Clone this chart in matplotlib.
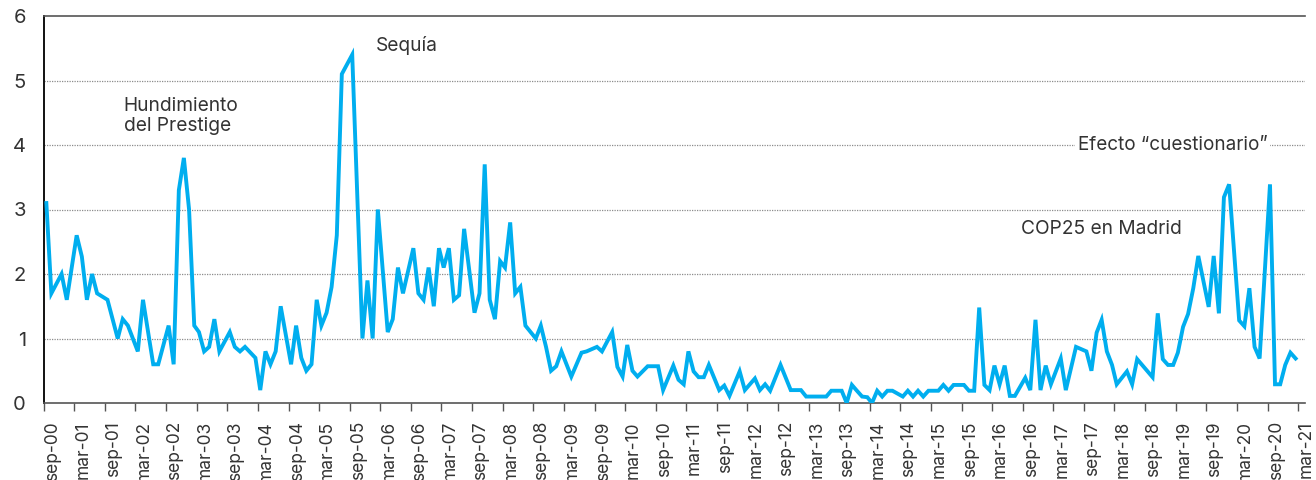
import matplotlib
matplotlib.use("Agg")
import matplotlib.pyplot as plt
import matplotlib.transforms as mtransforms
import pandas as pd

# ---- data -------------------------------------------------------------
start_month = "2000-09"
# months elapsed since sep-2000 for each survey observation
month_offset = [
    0, 1, 3, 4, 6, 7, 8, 9, 10, 12, 14, 15, 16, 18, 19, 21, 22, 24, 25, 26,
    27, 28, 29, 30, 31, 32, 33, 34, 36, 37, 38, 39, 41, 42, 43, 44, 45, 46, 48, 49,
    50, 51, 52, 53, 54, 55, 56, 57, 58, 60, 62, 63, 64, 65, 67, 68, 69, 70, 72, 73,
    74, 75, 76, 77, 78, 79, 80, 81, 82, 84, 85, 86, 87, 88, 89, 90, 91, 92, 93, 94,
    96, 97, 98, 99, 100, 101, 103, 105, 106, 108, 109, 111, 112, 113, 114, 115, 116, 118, 120, 121,
    123, 124, 125, 126, 127, 128, 129, 130, 132, 133, 134, 136, 137, 139, 140, 141, 142, 144, 146, 148,
    149, 152, 153, 154, 156, 157, 158, 159, 160, 161, 162, 163, 164, 165, 166, 168, 169, 170, 171, 172,
    173, 175, 176, 177, 178, 180, 181, 182, 183, 184, 185, 186, 187, 188, 189, 190, 192, 193, 194, 195,
    196, 197, 199, 200, 202, 204, 205, 206, 207, 208, 209, 210, 212, 213, 214, 217, 218, 219, 220, 221,
    222, 223, 224, 225, 226, 228, 229, 230, 231, 232, 234, 235, 236, 237, 238, 240, 241, 242, 243, 244,
    245,
]
values = [
    3.1, 1.7, 2.0, 1.6, 2.6, 2.27, 1.6, 2.0, 1.7, 1.6, 1.0, 1.3, 1.2, 0.8, 1.6, 0.6, 0.6, 1.2, 0.6, 3.3,
    3.8, 3.0, 1.2, 1.1, 0.8, 0.87, 1.3, 0.8, 1.1, 0.87, 0.8, 0.87, 0.7, 0.2, 0.8, 0.6, 0.8, 1.5, 0.6, 1.2,
    0.7, 0.5, 0.6, 1.6, 1.2, 1.4, 1.8, 2.6, 5.1, 5.4, 1.0, 1.9, 1.0, 3.0, 1.1, 1.3, 2.1, 1.7, 2.4, 1.7,
    1.6, 2.1, 1.5, 2.4, 2.1, 2.4, 1.6, 1.67, 2.7, 1.4, 1.7, 3.7, 1.6, 1.3, 2.2, 2.1, 2.8, 1.7, 1.8, 1.2,
    1.0, 1.2, 0.87, 0.5, 0.57, 0.8, 0.41, 0.78, 0.8, 0.87, 0.8, 1.1, 0.56, 0.41, 0.9, 0.5, 0.41, 0.57, 0.57, 0.2,
    0.58, 0.36, 0.29, 0.8, 0.49, 0.4, 0.4, 0.59, 0.2, 0.27, 0.11, 0.49, 0.2, 0.38, 0.2, 0.29, 0.19, 0.59, 0.2, 0.2,
    0.1, 0.1, 0.1, 0.19, 0.19, 0.0, 0.28, 0.19, 0.1, 0.09, 0.0, 0.19, 0.1, 0.19, 0.19, 0.1, 0.19, 0.1, 0.19, 0.1,
    0.19, 0.19, 0.28, 0.19, 0.28, 0.28, 0.19, 0.19, 1.48, 0.28, 0.2, 0.58, 0.29, 0.58, 0.11, 0.11, 0.39, 0.2, 1.29, 0.2,
    0.58, 0.29, 0.69, 0.2, 0.87, 0.8, 0.5, 1.09, 1.29, 0.8, 0.59, 0.29, 0.49, 0.29, 0.68, 0.4, 1.39, 0.68, 0.59, 0.59,
    0.78, 1.18, 1.38, 1.78, 2.28, 1.49, 2.28, 1.39, 3.19, 3.39, 1.28, 1.19, 1.78, 0.87, 0.69, 3.39, 0.29, 0.29, 0.59, 0.78,
    0.69,
]
tick_labels = []
for yr in range(0, 21):
    tick_labels.append(f"sep-{yr:02d}")
    tick_labels.append(f"mar-{yr + 1:02d}")
y_ticks = [0, 1, 2, 3, 4, 5, 6]

annotations = [
    ("Hundimiento\ndel Prestige", "2001-12-20", 4.45),
    ("Sequía", "2006-02-05", 5.55),
    ("COP25 en Madrid", "2016-08-20", 2.7),
]
callout_text = "Efecto \u201ccuestionario\u201d"
callout_pos = ("2017-07-25", 4.0)

# ---- build -------------------------------------------------------------
base = pd.Timestamp(start_month + "-15")
dates = [base + pd.DateOffset(months=m) for m in month_offset]
tick_dates = [pd.Timestamp("2000-09-01") + pd.DateOffset(months=6 * i)
              for i in range(len(tick_labels))]

plt.rcParams["font.family"] = ["Inter", "DejaVu Sans"]

fig = plt.figure(figsize=(13.16, 4.80), dpi=100)
ax = fig.add_axes([44 / 1316, 1 - 403 / 480, 1261 / 1316, 387 / 480])

line_color = "#00AEEF"
text_color = "#333333"

ax.plot(dates, values, color=line_color, lw=2.8, solid_joinstyle="miter", zorder=3)

ax.set_ylim(0, 6)
ax.set_xlim(pd.Timestamp("2000-09-01"), pd.Timestamp("2021-04-12"))
ax.set_yticks(y_ticks)
ax.set_yticklabels([str(v) for v in y_ticks], fontsize=14.5, color=text_color)
ax.set_xticks(tick_dates)
ax.set_xticklabels(tick_labels, rotation=90, fontsize=12.5, color=text_color,
                   ha="left", va="top")
shift = mtransforms.ScaledTranslation(2 / 100, 0, fig.dpi_scale_trans)
for lbl in ax.get_xticklabels():
    lbl.set_transform(lbl.get_transform() + shift)

ax.tick_params(axis="y", length=0, pad=13)
ax.tick_params(axis="x", length=6, width=1, color="#555555", pad=7)

for v in y_ticks[1:-1]:
    ax.axhline(v, color="#8c8c8c", lw=0.9, ls=(0, (1, 1)), zorder=1)

ax.spines["right"].set_visible(False)
ax.spines["top"].set_color("#555555")
ax.spines["top"].set_linewidth(1.2)
ax.spines["left"].set_color("#111111")
ax.spines["left"].set_linewidth(1.4)
ax.spines["bottom"].set_color("#555555")
ax.spines["bottom"].set_linewidth(1.2)

for txt, d, y in annotations:
    ax.text(pd.Timestamp(d), y, txt, fontsize=13.8, color=text_color,
            ha="left", va="center", linespacing=1.2, zorder=4)

ax.text(pd.Timestamp(callout_pos[0]), callout_pos[1], callout_text, fontsize=13.6,
        color=text_color, ha="left", va="center", zorder=4,
        bbox=dict(facecolor="white", edgecolor="none", pad=2))

fig.savefig("out.png", dpi=100)
